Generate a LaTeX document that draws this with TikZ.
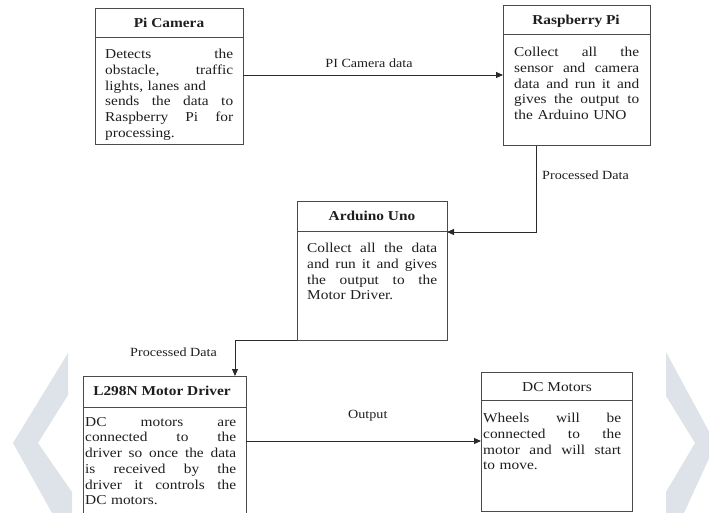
\documentclass[tikz,border=0pt]{standalone}
\usepackage{fontspec}
\setmainfont[FakeStretch=1.13]{Liberation Serif}
\usetikzlibrary{arrows.meta}
\newcommand\jline[2]{\leavevmode\hbox to #1{#2}}
\definecolor{boxgray}{HTML}{4A4A4A}
\definecolor{linecol}{HTML}{2A2A2A}
\definecolor{txtcol}{HTML}{1E1E1E}
\definecolor{wmark}{HTML}{DDE3E8}
\begin{document}
\begin{tikzpicture}[x=1pt,y=-1pt,
  boxnode/.style={anchor=north west, inner sep=0pt, outer sep=0pt, draw=boxgray, line width=1pt},
  hiddenbox/.style={anchor=north west, inner sep=0pt, outer sep=0pt},
  divider/.style={draw=boxgray, line width=0.9pt},
  headtxt/.style={anchor=base, inner sep=0pt, text=txtcol, font=\fontsize{13.6}{15.7}\selectfont\bfseries},
  headplain/.style={anchor=base, inner sep=0pt, text=txtcol, font=\fontsize{13.6}{15.7}\selectfont},
  bodytxt/.style={anchor=north west, inner sep=0pt, text=txtcol, align=left, font=\fontsize{13.6}{15.7}\selectfont},
  lbl/.style={anchor=base west, inner sep=0pt, text=txtcol, font=\fontsize{12.5}{14}\selectfont},
  conn/.style={draw=linecol, line width=0.9pt, -{Triangle[length=7pt,width=6pt]}}
]
\useasboundingbox (0,0) rectangle (709,513);
% watermark chevrons
\fill[wmark] (68,353) -- (68,395) -- (38,443) -- (72,492) -- (72,513) -- (52,513) -- (13,443) -- cycle;
\fill[wmark] (666,352) -- (712,437) -- (712,452) -- (684,513) -- (666,513) -- (666,492) -- (695,443) -- (666,396) -- cycle;

% Pi Camera
\node[boxnode, minimum width=148pt, minimum height=136pt] (cam) at (95,9) {};
\draw[divider] (cam.west |- 0,37) -- (cam.east |- 0,37);
\node[headtxt] (camh) at (169,27.5) {Pi Camera};
\node[bodytxt, text width=128pt] (camb) at (105,49) {\jline{128pt}{Detects\hfill the}\\\jline{128pt}{obstacle,\hfill traffic}\\lights, lanes and\\\jline{128pt}{sends\hfill the\hfill data\hfill to}\\\jline{128pt}{Raspberry\hfill Pi\hfill for}\\processing.};

% Raspberry Pi
\node[boxnode, minimum width=147pt, minimum height=140pt] (rpi) at (503,6) {};
\draw[divider] (rpi.west |- 0,34) -- (rpi.east |- 0,34);
\node[headtxt] (rpih) at (576,24.5) {Raspberry Pi};
\node[bodytxt, text width=125pt] (rpib) at (514,47) {\jline{125pt}{Collect\hfill all\hfill the}\\\jline{125pt}{sensor\hfill and\hfill camera}\\\jline{125pt}{data\hfill and\hfill run\hfill it\hfill and}\\\jline{125pt}{gives\hfill the\hfill output\hfill to}\\the Arduino UNO};

% Arduino Uno
\node[boxnode, minimum width=150pt, minimum height=138pt] (ard) at (297,202) {};
\draw[divider] (ard.west |- 0,231) -- (ard.east |- 0,231);
\node[headtxt] (ardh) at (372,220) {Arduino Uno};
\node[bodytxt, text width=130pt] (ardb) at (307,243) {\jline{130pt}{Collect\hfill all\hfill the\hfill data}\\\jline{130pt}{and\hfill run\hfill it\hfill and\hfill gives}\\\jline{130pt}{the\hfill output\hfill to\hfill the}\\Motor Driver.};

% L298N Motor Driver (bottom runs off the page)
\node[hiddenbox, minimum width=163pt, minimum height=137pt] (drv) at (83,376) {};
\draw[boxgray, line width=1pt] (drv.south west) -- (drv.north west) -- (drv.north east) -- (drv.south east);
\draw[divider] (drv.west |- 0,407) -- (drv.east |- 0,407);
\node[headtxt] (drvh) at (162,395) {L298N Motor Driver};
\node[bodytxt, text width=151pt] (drvb) at (85,417) {\jline{151pt}{DC\hfill motors\hfill are}\\\jline{151pt}{connected\hfill to\hfill the}\\\jline{151pt}{driver\hfill so\hfill once\hfill the\hfill data}\\\jline{151pt}{is\hfill received\hfill by\hfill the}\\\jline{151pt}{driver\hfill it\hfill controls\hfill the}\\DC motors.};

% DC Motors
\node[boxnode, minimum width=151pt, minimum height=139pt] (dcm) at (481,372) {};
\draw[divider] (dcm.west |- 0,400) -- (dcm.east |- 0,400);
\node[headplain] (dcmh) at (557,391) {DC Motors};
\node[bodytxt, text width=138pt] (dcmb) at (483,413) {\jline{138pt}{Wheels\hfill will\hfill be}\\\jline{138pt}{connected\hfill to\hfill the}\\\jline{138pt}{motor\hfill and\hfill will\hfill start}\\to move.};

% connectors
\draw[conn] (cam.east |- 0,75) -- (rpi.west |- 0,75);
\node[lbl, anchor=base] (l1) at (369,67.5) {PI Camera data};

\coordinate (bend1) at (536,232);
\draw[conn] (rpi.south -| bend1) -- (bend1) -- (ard.east |- bend1);
\node[lbl] (l2) at (542,179) {Processed Data};

\coordinate (bend2) at (235,340);
\draw[conn] (ard.south west) -- (bend2) -- (drv.north -| bend2);
\node[lbl] (l3) at (130,356) {Processed Data};

\draw[conn] (drv.east |- 0,441) -- (dcm.west |- 0,441);
\node[lbl] (l4) at (348,418) {Output};
\end{tikzpicture}
\end{document}
